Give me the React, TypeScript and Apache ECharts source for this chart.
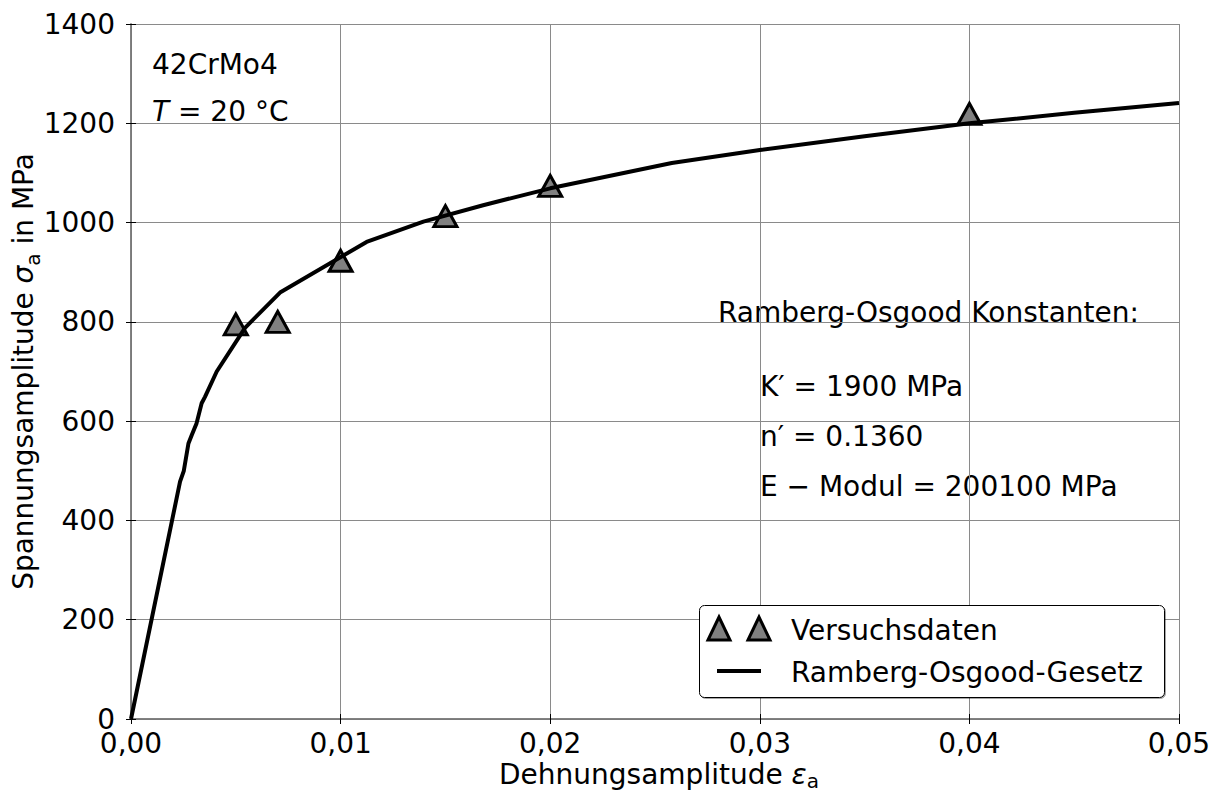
import React, { useEffect, useRef } from "react";
import * as echarts from "echarts";

// Versuchsdaten (test data)
const testStrain = [0.005, 0.007, 0.01, 0.015, 0.02, 0.04];
const testStress = [795, 800, 923, 1013, 1074, 1219];

// Ramberg-Osgood curve
const curveStrain = [0, 0.00234, 0.00252, 0.00274, 0.0029, 0.00313, 0.00337, 0.00353, 0.00409, 0.00544, 0.00711, 0.01124, 0.01395, 0.0168, 0.02, 0.0258, 0.03, 0.035, 0.04, 0.045, 0.05];
const curveStress = [0, 478, 500, 555, 572, 596, 636, 649, 700, 788, 859, 961, 1002, 1035, 1069, 1120, 1146, 1174, 1200, 1221, 1241];

const xTicks = [0, 0.01, 0.02, 0.03, 0.04, 0.05];
const yTicks = [0, 200, 400, 600, 800, 1000, 1200, 1400];

const FONT = "'DejaVu Sans', Verdana, sans-serif";

export default function App() {
  const ref = useRef<HTMLDivElement>(null);
  useEffect(() => {
    if (!ref.current) return;
    const chart = echarts.init(ref.current, undefined, { renderer: "svg" });
    const gray = "#8a8a8a";
    const spine = "#7a7a7a";
    const baseAxis = {
      axisLine: { show: true, lineStyle: { color: spine, width: 1.5 } },
      axisTick: { show: true, inside: false, length: 5, lineStyle: { color: "#000", width: 1 } },
    };
    chart.setOption({
      animation: false,
      backgroundColor: "#fff",
      textStyle: { fontFamily: FONT },
      grid: { left: 131, right: 39, top: 24, bottom: 77, containLabel: false, outerBoundsMode: "none" },
      xAxis: [
        {
          ...baseAxis,
          type: "value",
          min: xTicks[0],
          max: xTicks[xTicks.length - 1],
          interval: 0.01,
          position: "bottom",
          axisLabel: {
            margin: 10,
            fontSize: 28,
            color: "#000",
            fontFamily: FONT,
            formatter: (v: number) => v.toFixed(2).replace(".", ","),
          },
          splitLine: { show: true, lineStyle: { color: gray, width: 1 } },
          name: "{n|Dehnungsamplitude }{s|ε}{sub|a}",
          nameLocation: "middle",
          nameGap: 38,
          nameMoveOverlap: false,
          nameTextStyle: {
            fontFamily: FONT,
            color: "#000",
            padding: [0, 0, 0, 8],
            rich: {
              n: { fontSize: 28, fontFamily: FONT, color: "#000" },
              s: { fontSize: 28, fontStyle: "italic", fontFamily: FONT, color: "#000" },
              sub: { fontSize: 20, lineHeight: 34, verticalAlign: "bottom", fontFamily: FONT, color: "#000" },
            },
          },
        },
        {
          ...baseAxis,
          type: "value",
          min: xTicks[0],
          max: xTicks[xTicks.length - 1],
          interval: 0.01,
          position: "top",
          axisLabel: { show: false },
          splitLine: { show: false },
        },
      ],
      yAxis: [
        {
          ...baseAxis,
          type: "value",
          min: yTicks[0],
          max: yTicks[yTicks.length - 1],
          interval: 200,
          position: "left",
          axisLabel: {
            margin: 16,
            fontSize: 28,
            color: "#000",
            fontFamily: FONT,
            formatter: (v: number) => String(v),
          },
          splitLine: { show: true, lineStyle: { color: gray, width: 1 } },
          name: "{n|Spannungsamplitude }{s|σ}{sub|a}{n| in MPa}",
          nameLocation: "middle",
          nameGap: 88,
          nameMoveOverlap: false,
          nameRotate: 90,
          nameTextStyle: {
            fontFamily: FONT,
            color: "#000",
            rich: {
              n: { fontSize: 28, fontFamily: FONT, color: "#000" },
              s: { fontSize: 28, fontStyle: "italic", fontFamily: FONT, color: "#000" },
              sub: { fontSize: 20, lineHeight: 40, verticalAlign: "bottom", fontFamily: FONT, color: "#000" },
            },
          },
        },
        {
          ...baseAxis,
          type: "value",
          min: yTicks[0],
          max: yTicks[yTicks.length - 1],
          interval: 200,
          position: "right",
          axisLabel: { show: false },
          splitLine: { show: false },
        },
      ],
      series: [
        {
          name: "Versuchsdaten",
          type: "scatter",
          xAxisIndex: 0,
          yAxisIndex: 0,
          z: 2,
          symbol: "triangle",
          symbolSize: [23, 21],
          itemStyle: { color: "#808080", borderColor: "#000", borderWidth: 3, opacity: 1 },
          data: testStrain.map((x, i) => [x, testStress[i]]),
        },
        {
          name: "Ramberg-Osgood-Gesetz",
          type: "line",
          xAxisIndex: 0,
          yAxisIndex: 0,
          z: 3,
          showSymbol: false,
          symbol: "none",
          lineStyle: { color: "#000", width: 4 },
          data: curveStrain.map((x, i) => [x, curveStress[i]]),
        },
      ],
      graphic: [
        {
          type: "text",
          x: 152,
          y: 64,
          style: { text: "42CrMo4", font: `28px ${FONT}`, fill: "#000", verticalAlign: "middle" },
        },
        {
          type: "text",
          x: 152,
          y: 111,
          style: {
            text: "{i|T} = 20 °C",
            font: `28px ${FONT}`,
            fill: "#000",
            verticalAlign: "middle",
            rich: { i: { fontStyle: "italic", fontSize: 28, fontFamily: FONT } },
          },
        },
        {
          type: "text",
          x: 718,
          y: 312,
          style: { text: "Ramberg-Osgood Konstanten:", font: `28px ${FONT}`, fill: "#000", verticalAlign: "middle" },
        },
        {
          type: "text",
          x: 760,
          y: 386,
          style: { text: "K′ = 1900 MPa", font: `28px ${FONT}`, fill: "#000", verticalAlign: "middle" },
        },
        {
          type: "text",
          x: 760,
          y: 436,
          style: { text: "n′ = 0.1360", font: `28px ${FONT}`, fill: "#000", verticalAlign: "middle" },
        },
        {
          type: "text",
          x: 760,
          y: 486,
          style: { text: "E − Modul = 200100 MPa", font: `28px ${FONT}`, fill: "#000", verticalAlign: "middle" },
        },
        // legend
        {
          type: "rect",
          z: 10,
          shape: { x: 699.5, y: 605.5, width: 465, height: 92, r: 5 },
          style: { fill: "#fff", stroke: "#000", lineWidth: 1, shadowBlur: 0, shadowOffsetX: 1, shadowOffsetY: 1, shadowColor: "rgba(0,0,0,0.35)" },
        },
        {
          type: "polygon",
          z: 11,
          shape: { points: [[708, 640], [719, 617], [730, 640]] },
          style: { fill: "#808080", stroke: "#000", lineWidth: 3 },
        },
        {
          type: "polygon",
          z: 11,
          shape: { points: [[748, 640], [759, 617], [770, 640]] },
          style: { fill: "#808080", stroke: "#000", lineWidth: 3 },
        },
        {
          type: "line",
          z: 11,
          shape: { x1: 717, y1: 671, x2: 761, y2: 671 },
          style: { stroke: "#000", lineWidth: 4 },
        },
        {
          type: "text",
          z: 11,
          x: 791,
          y: 630,
          style: { text: "Versuchsdaten", font: `28px ${FONT}`, fill: "#000", verticalAlign: "middle" },
        },
        {
          type: "text",
          z: 11,
          x: 791,
          y: 672,
          style: { text: "Ramberg-Osgood-Gesetz", font: `28px ${FONT}`, fill: "#000", verticalAlign: "middle" },
        },
      ],
    });
    return () => chart.dispose();
  }, []);
  return (
    <div
      ref={ref}
      style={{ position: "fixed", left: 0, top: 0, width: 1218, height: 796, background: "#fff" }}
    />
  );
}
